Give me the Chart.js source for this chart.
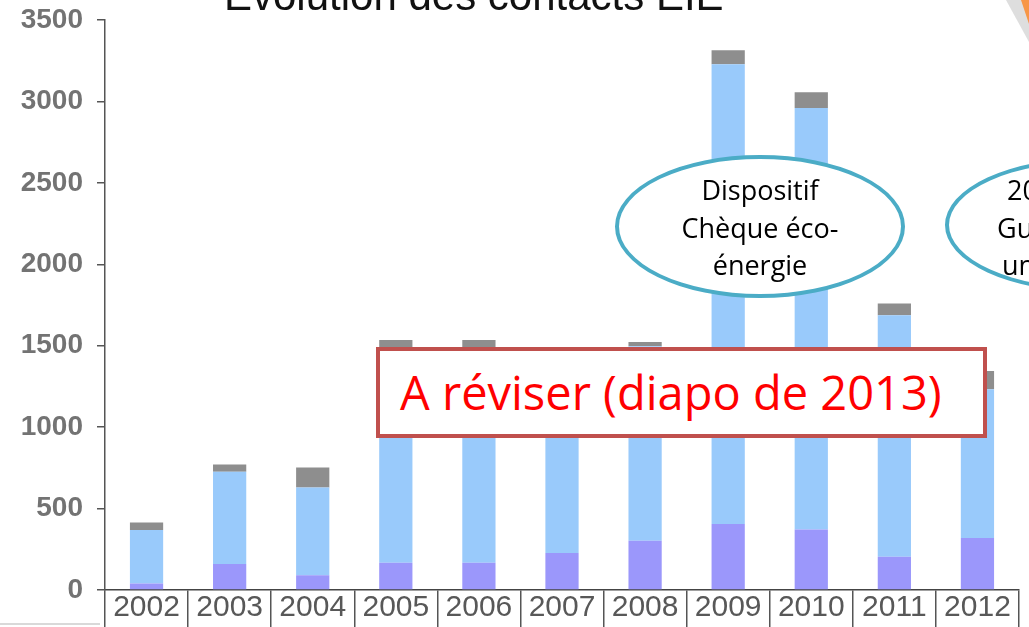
<!DOCTYPE html>
<html><head><meta charset="utf-8">
<script src="https://cdn.jsdelivr.net/npm/chart.js@4.4.1/dist/chart.umd.min.js"></script>
<style>
html,body{margin:0;padding:0;background:#fff;overflow:hidden;}
#wrap{position:relative;width:1029px;height:627px;overflow:hidden;background:#fff;}
#c{position:absolute;left:0;top:0;}
.ov{position:absolute;white-space:nowrap;}
.title{left:224px;top:-25px;font-family:"Liberation Sans",Arial,sans-serif;font-size:42px;line-height:42px;color:#111;}
.ell{box-sizing:border-box;border:4px solid #4BACC6;border-radius:50%;background:#fff;}
.et{font-family:"Open Sans",sans-serif;font-size:27px;line-height:37.5px;color:#000;}
.box{box-sizing:border-box;left:376px;top:347px;width:611px;height:91px;border:4px solid #C0504D;background:#fff;}
.boxt{left:400px;top:362px;font-family:"Open Sans",sans-serif;font-size:47px;line-height:60px;color:#FF0000;}
</style></head><body>
<div id="wrap">
<canvas id="c" width="1029" height="627"></canvas>
<div class="ov title">Evolution des contacts EIE</div>
<div class="ov ell" style="left:615px;top:155px;width:290px;height:143px"></div>
<div class="ov et" style="left:615px;top:171px;width:290px;text-align:center">Dispositif<br>Chèque éco-<br>énergie</div>
<div class="ov ell" style="left:945px;top:158px;width:290px;height:134px"></div>
<div class="ov et" style="left:1007px;top:171px">2013</div>
<div class="ov et" style="left:997px;top:208.5px">Guichet</div>
<div class="ov et" style="left:1002px;top:246px">unique</div>
<div class="ov box"></div>
<div class="ov boxt">A réviser (diapo de 2013)</div>
<svg class="ov" style="left:0;top:0" width="1029" height="627">
  <polygon points="1006,0 1022,0 1029,20 1029,42" fill="#d6d6d6" opacity="0.8"/>
  <polygon points="1021,0 1029,0 1029,24" fill="#F79646"/>
  <rect x="0" y="623" width="100" height="2" fill="#d9d9d9"/>
</svg>
</div>
<script>
const years = ['2002','2003','2004','2005','2006','2007','2008','2009','2010','2011','2012'];
const purpleVals = [40, 160, 90, 168, 168, 227, 302, 405, 372, 204, 319];
const blueVals   = [328, 566, 540, 1322, 1322, 1183, 1195, 2823, 2588, 1483, 914];
const grayVals   = [47, 45, 122, 45, 45, 45, 26, 87, 96, 72, 111];
const yMin = 0, yMax = 3500, yStep = 500;

Chart.defaults.animation = false;
new Chart(document.getElementById('c'), {
  type: 'bar',
  data: {
    labels: years,
    datasets: [
      {data: purpleVals, backgroundColor: '#9B97FB', barPercentage: 0.4, categoryPercentage: 1},
      {data: blueVals, backgroundColor: '#99CAFB', barPercentage: 0.4, categoryPercentage: 1},
      {data: grayVals, backgroundColor: '#8E8E8E', barPercentage: 0.4, categoryPercentage: 1}
    ]
  },
  options: {
    responsive: false,
    devicePixelRatio: 1,
    animation: false,
    layout: {padding: {top: 20, right: 10, left: 0, bottom: 0}},
    plugins: {legend: {display: false}, tooltip: {enabled: false}, title: {display: false}},
    scales: {
      x: {
        stacked: true,
        offset: true,
        grid: {offset: true, drawOnChartArea: false, drawTicks: true, tickLength: 40, color: '#555', lineWidth: 1.5},
        border: {display: true, color: '#444', width: 1.5},
        ticks: {font: {family: '"Liberation Sans", Arial', size: 30}, color: '#585858', padding: -40, maxRotation: 0, autoSkip: false},
        afterFit: s => { s.height = 37; }
      },
      y: {
        stacked: true,
        min: yMin, max: yMax,
        ticks: {stepSize: yStep, font: {family: '"Liberation Sans", Arial', size: 28, weight: 'bold'}, color: '#737373', padding: 14,
                callback: v => String(v)},
        grid: {drawOnChartArea: false, drawTicks: true, tickLength: 8, color: '#555', lineWidth: 1.5},
        border: {display: true, color: '#555', width: 1.5},
        afterFit: s => { s.width = 105; s.paddingTop = 0; s.paddingBottom = 0; }
      }
    }
  }
});
</script>
</body></html>
